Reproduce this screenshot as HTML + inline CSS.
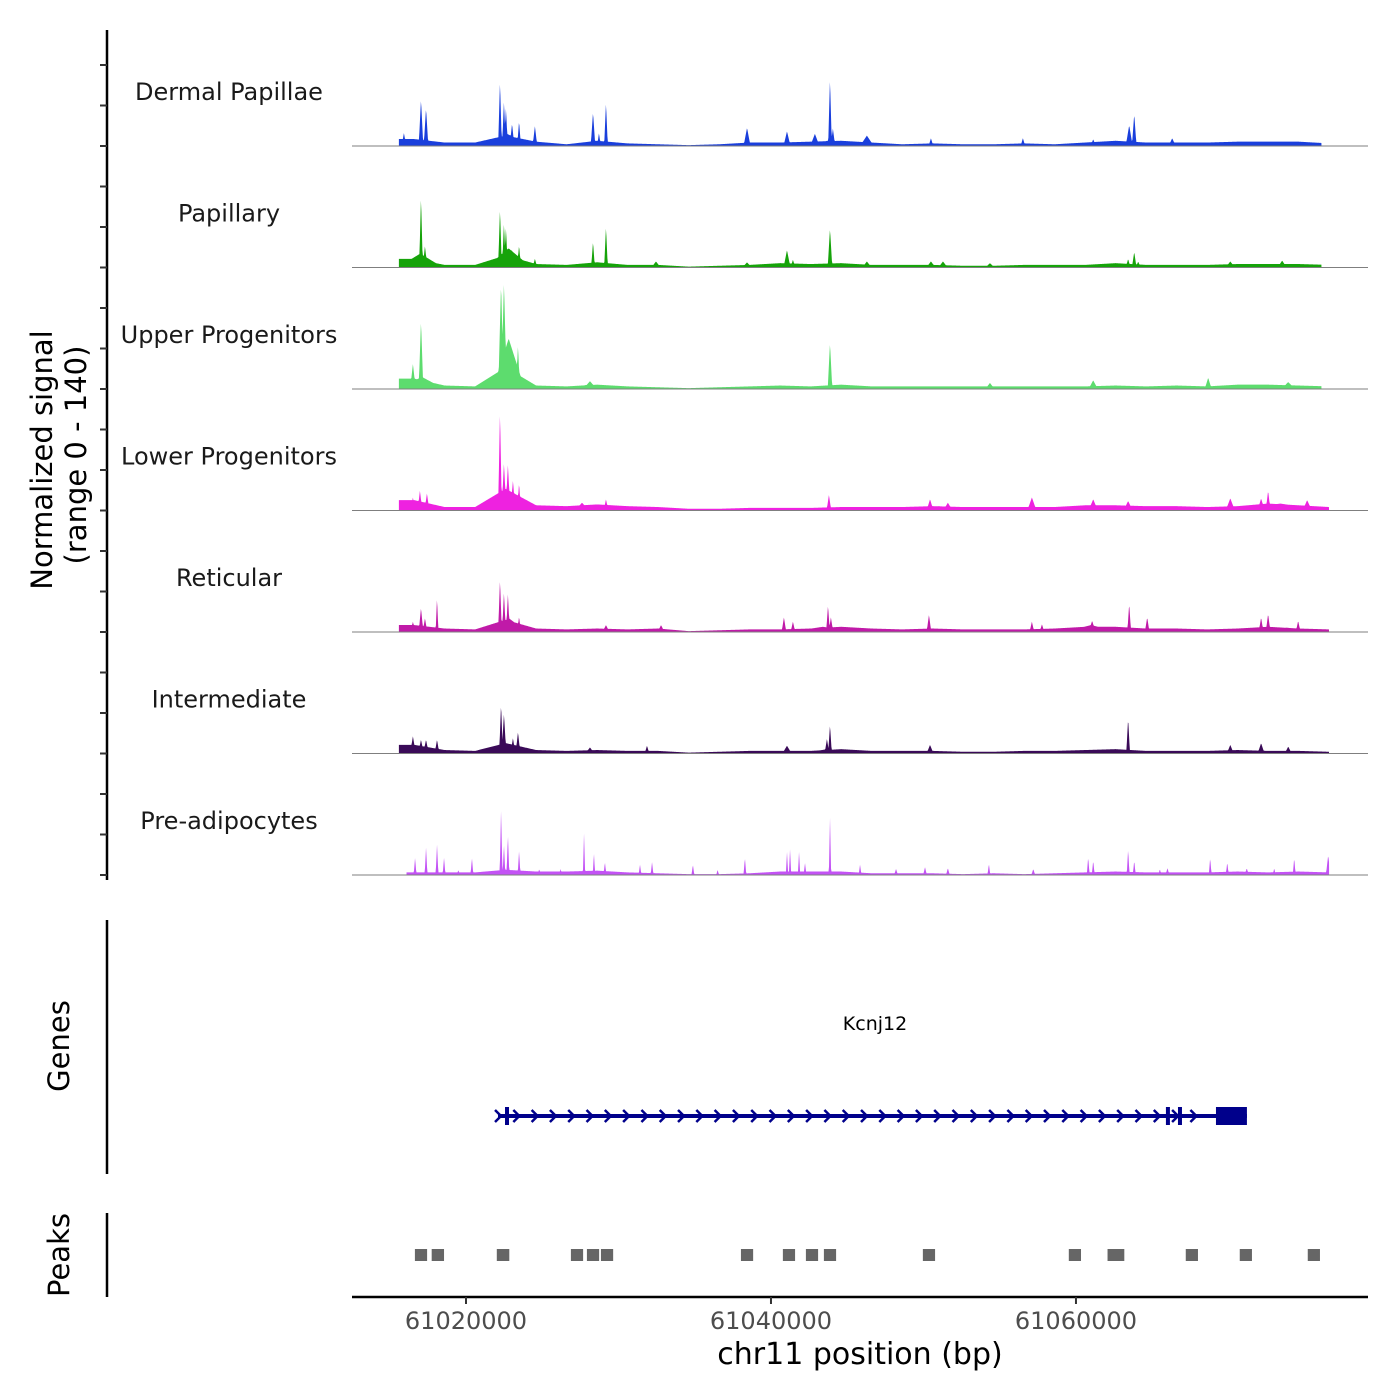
<!DOCTYPE html>
<html><head><meta charset="utf-8"><style>
html,body{margin:0;padding:0;background:#fff}
svg{display:block}
text{font-family:"DejaVu Sans","Liberation Sans",sans-serif}
</style></head><body>
<svg id="chart" width="1400" height="1400" viewBox="0 0 1400 1400">
<g id="axes"></g>
<g id="tracks"></g>
<g id="genes"></g>
<g id="peaks"></g>
</svg>
<script>
// ---- data (positions in kb, offset 61000; values in normalized signal units) ----
const trackNames = ["Dermal Papillae","Papillary","Upper Progenitors","Lower Progenitors","Reticular","Intermediate","Pre-adipocytes"];
const trackColors = ["#1a3fdc","#16a30a","#5ddc6e","#ee22e0","#c01aa8","#3a0a58","#c352f5"];
const trackStart = [15.6,15.6,15.6,15.6,15.6,15.6,16.1];
const trackEnd = [76.1,76.1,76.1,76.6,76.6,76.6,76.6];
const xTicks = [61020000,61040000,61060000];

// background level per 2 kb bin, starting at 15.6 kb
const bgStep = 2.0;
const dpBg = [8,4,4,12,5,2,6,3,2,1,2,4,4,5,6,4,2,3,2,2,3,2,4,6,4,4,4,5,5,5,3];
const paBg = [10,3,3,14,4,3,6,3,3,1,2,3,5,4,5,3,3,3,2,2,3,3,3,5,3,3,3,4,4,4,3];
const upBg = [12,4,3,25,4,3,5,3,2,1,2,3,4,3,5,3,3,3,3,3,3,3,3,4,3,4,3,5,5,4,3];
const loBg = [12,4,4,25,6,5,7,5,4,2,2,3,3,3,4,4,4,5,4,4,4,4,6,6,5,5,4,5,8,6,4];
const reBg = [8,4,3,14,4,3,4,3,4,1,2,3,3,4,6,4,3,4,3,3,3,4,6,6,4,4,3,4,6,4,3];
const inBg = [10,4,3,12,4,3,4,3,3,1,2,3,3,3,5,3,3,3,2,2,3,3,4,5,3,3,3,4,3,3,2];
const prBg = [3,3,3,6,4,4,5,3,2,1,1,2,4,4,4,2,2,2,1,2,1,2,3,4,3,3,3,4,3,4,3];

const dpPos = [15.93,17.05,17.38,22.23,22.49,22.62,23.02,23.48,24.52,28.33,28.72,29.18,38.43,41.05,42.88,43.87,44.06,46.29,50.49,56.52,61.13,63.49,63.82,66.31,76.54,17.2,22.7,28.8,43.7,63.6,73.0];
const dpVal = [15,54,44,75,52,44,26,29,23,39,15,50,21,17,14,78,20,12,9,9,8,24,37,9,15,6,14,4,6,6,5];
const dpW   = [0.1,0.1,0.1,0.08,0.08,0.08,0.1,0.08,0.1,0.1,0.08,0.08,0.15,0.15,0.2,0.08,0.1,0.3,0.1,0.1,0.1,0.15,0.1,0.15,0.1,1.0,1.0,0.8,1.0,0.8,2.5];

const paPos = [17.05,17.31,22.23,22.49,22.62,23.02,23.48,24.52,28.33,29.18,32.46,38.43,41.05,41.44,43.87,46.29,50.49,51.28,54.36,63.42,63.82,64.08,70.12,73.52,17.0,22.8,28.7];
const paVal = [82,25,68,51,46,21,26,10,30,47,7,6,20,9,45,7,7,7,5,10,18,7,7,8,16,22,6];
const paW   = [0.08,0.1,0.08,0.08,0.08,0.1,0.08,0.1,0.08,0.08,0.2,0.2,0.15,0.1,0.1,0.2,0.2,0.2,0.2,0.1,0.1,0.1,0.2,0.2,1.0,1.0,1.0];

const upPos = [16.52,17.05,22.30,22.49,23.08,23.41,28.13,43.87,54.36,61.13,68.67,73.92,17.1,22.8,28.0];
const upVal = [29,79,122,123,40,51,9,53,7,10,13,8,14,58,5];
const upW   = [0.12,0.1,0.12,0.12,0.1,0.08,0.3,0.1,0.2,0.2,0.15,0.3,1.0,0.7,1.0];

const loPos = [16.52,16.98,17.44,22.23,22.49,22.75,23.08,23.48,27.61,29.18,43.80,50.43,51.60,57.11,61.13,63.42,70.12,72.14,72.60,75.16,17.1,22.8,61.9,73.4,51.0];
const loVal = [15,23,20,115,55,53,35,32,9,13,18,13,9,15,13,11,14,14,23,12,10,23,6,8,5];
const loW   = [0.1,0.1,0.1,0.08,0.1,0.1,0.1,0.08,0.3,0.1,0.1,0.15,0.2,0.2,0.2,0.2,0.2,0.15,0.1,0.2,1.0,1.0,2.0,2.0,1.5];

const rePos = [16.52,17.05,17.31,18.10,22.23,22.49,22.75,23.48,29.18,32.79,40.85,41.44,43.74,43.93,50.36,57.11,57.77,61.06,63.49,64.67,72.14,72.60,74.57,17.1,22.8,43.4,61.0,73.8];
const reVal = [12,28,16,40,61,46,44,18,8,8,17,12,31,17,20,12,9,13,33,17,17,21,13,5,16,6,8,5];
const reW   = [0.1,0.1,0.1,0.06,0.08,0.08,0.08,0.08,0.15,0.15,0.1,0.1,0.08,0.1,0.1,0.1,0.1,0.15,0.08,0.1,0.1,0.1,0.1,1.0,0.8,1.5,1.2,2.0];

const inPos = [16.52,17.05,17.38,18.10,22.30,22.49,23.08,23.41,28.13,31.87,41.05,43.67,43.87,50.43,63.42,70.12,72.14,73.92,17.3,22.8,43.7];
const inVal = [20,16,16,16,58,46,18,25,7,9,9,17,33,10,41,10,12,8,7,9,5];
const inW   = [0.12,0.12,0.12,0.1,0.08,0.1,0.1,0.1,0.2,0.1,0.2,0.1,0.08,0.15,0.08,0.15,0.15,0.15,1.0,0.8,1.2];

const prPos = [16.66,17.38,18.10,18.56,20.39,22.30,22.49,22.75,23.48,27.74,28.39,29.11,31.41,32.20,34.88,38.29,41.05,41.25,41.84,42.23,43.87,45.84,48.2,50.1,51.6,54.29,57.2,60.80,61.13,63.42,63.82,66.0,68.80,69.92,71.2,74.31,76.54,19.5,24.8,26.2,36.5,65.5,73.0];
const prVal = [20,32,35,20,20,76,35,47,28,48,26,15,12,15,12,20,27,30,27,14,67,12,7,9,8,13,7,21,17,30,17,8,20,15,8,20,23,6,7,7,6,7,8];
const prW   = [0.06,0.06,0.06,0.06,0.06,0.06,0.06,0.06,0.06,0.05,0.05,0.06,0.06,0.06,0.06,0.06,0.05,0.05,0.05,0.06,0.05,0.06,0.08,0.08,0.08,0.06,0.08,0.06,0.06,0.06,0.06,0.08,0.06,0.06,0.08,0.06,0.1,0.06,0.06,0.06,0.06,0.06,0.06];

const trackPos = [dpPos,paPos,upPos,loPos,rePos,inPos,prPos];
const trackVal = [dpVal,paVal,upVal,loVal,reVal,inVal,prVal];
const trackW   = [dpW,paW,upW,loW,reW,inW,prW];
const trackBgs = [dpBg,paBg,upBg,loBg,reBg,inBg,prBg];

const geneName = "Kcnj12";
const geneStart = 22.10, geneEnd = 71.21;
const geneCdsStart = 69.18;
const exonMarks = [22.69,66.03,66.82];
const peakStart = [16.65,17.75,22.02,26.88,27.93,28.85,38.03,40.78,42.29,43.47,49.96,59.53,62.07,67.20,70.74,75.20];
const peakEnd   = [17.45,18.56,22.84,27.68,28.73,29.65,38.83,41.58,43.09,44.27,50.76,60.33,63.17,68.00,71.54,76.00];

// ---- scales ----
const WSCALE = 1.5;
const X0 = 352, X1 = 1368, KB0 = 12.525, KB1 = 79.15;
function xs(kb){ return X0 + (kb-KB0)/(KB1-KB0)*(X1-X0); }
function xbp(bp){ return xs(bp/1000 - 61000); }
const YMAX = 140, TH = 121.5;
function baseY(i){ return 146 + i*TH; }
function ys(i,v){ return baseY(i) - Math.min(v,YMAX)/YMAX*TH; }
function bgAt(arr, kb){
  const f = (kb-15.6)/bgStep - 0.5;
  const k = Math.floor(f);
  const a = arr[Math.max(0,Math.min(arr.length-1,k))];
  const b = arr[Math.max(0,Math.min(arr.length-1,k+1))];
  const t = Math.max(0,Math.min(1,f-k));
  return a + (b-a)*t;
}

const NS = "http://www.w3.org/2000/svg";
function mk(tag, attrs, parent){ const e=document.createElementNS(NS,tag); for(const k in attrs) e.setAttribute(k,attrs[k]); parent.appendChild(e); return e; }

const axes = document.getElementById('axes');
const tracksG = document.getElementById('tracks');
const genesG = document.getElementById('genes');
const peaksG = document.getElementById('peaks');

let l = mk('line',{x1:107,y1:30,x2:107,y2:880,stroke:'#000','stroke-width':2.5},axes);


for(let i=0;i<7;i++){
  for(let k=0;k<3;k++){
    const y = baseY(i) - k*TH/3;
    const t = mk('line',{x1:100,y1:y,x2:107,y2:y,stroke:'#333','stroke-width':2},axes);
    
    
  }
}
let yt = mk('text',{x:0,y:0,'font-size':29,'text-anchor':'middle',fill:'#000',transform:'translate(52,460) rotate(-90)'},axes);
yt.textContent='Normalized signal';


let yt2 = mk('text',{x:0,y:0,'font-size':29,'text-anchor':'middle',fill:'#000',transform:'translate(86,455) rotate(-90)'},axes);
yt2.textContent='(range 0 - 140)';



for(let i=0;i<7;i++){
  const pos=trackPos[i], val=trackVal[i], w=trackW[i], bg=trackBgs[i];
  let d = 'M'+xs(trackStart[i]).toFixed(2)+','+baseY(i);
  for(let px=xs(trackStart[i]); px<=xs(trackEnd[i]); px+=0.5){
    const kb = KB0 + (px-X0)/(X1-X0)*(KB1-KB0);
    let v = 0;
    for(let j=0;j<pos.length;j++){
      const f = 1 - Math.abs(kb-pos[j])/(w[j]*WSCALE);
      if(f>0) v = Math.max(v, val[j]*f);
    }
    v = Math.max(v, bgAt(bg,kb));
    d += 'L'+px.toFixed(2)+','+ys(i,v).toFixed(2);
  }
  d += 'L'+xs(trackEnd[i]).toFixed(2)+','+baseY(i)+'Z';
  const p = mk('path',{d:d,fill:trackColors[i]},tracksG);
  
  
  const bl = mk('line',{x1:X0,y1:baseY(i),x2:X1,y2:baseY(i),stroke:'#7f7f7f','stroke-width':1},tracksG);
  
  
  const lab = mk('text',{x:229,y:baseY(i)-46,'font-size':24,'text-anchor':'middle',fill:'#1a1a1a'},tracksG);
  lab.textContent = trackNames[i];
  
  
}

let ga = mk('line',{x1:107,y1:920,x2:107,y2:1174,stroke:'#000','stroke-width':2.5},genesG);


let gt = mk('text',{x:0,y:0,'font-size':29,'text-anchor':'middle',fill:'#000',transform:'translate(69,1046) rotate(-90)'},genesG);
gt.textContent='Genes';


const GY = 1116;
let gl = mk('line',{x1:xs(geneStart),y1:GY,x2:xs(geneEnd),y2:GY,stroke:'#00008b','stroke-width':4},genesG);


for(let kb=geneStart+0.0; kb<geneCdsStart-0.3; kb+=1.2){
  const x = xs(kb);
  const a = mk('path',{d:`M${x-3},${GY-6} L${x+3},${GY} L${x-3},${GY+6}`,fill:'none',stroke:'#00008b','stroke-width':2.5},genesG);
  
  
}
for(const e of exonMarks){
  const m = mk('rect',{x:xs(e)-2,y:GY-9,width:4,height:18,fill:'#00008b'},genesG);
  
  
}
let cds = mk('rect',{x:xs(geneCdsStart),y:GY-9,width:xs(geneEnd)-xs(geneCdsStart),height:18,fill:'#00008b'},genesG);


let gn = mk('text',{x:875,y:1030,'font-size':19,'text-anchor':'middle',fill:'#000'},genesG);
gn.textContent=geneName;



let pa = mk('line',{x1:107,y1:1213,x2:107,y2:1297,stroke:'#000','stroke-width':2.5},peaksG);


let pt = mk('text',{x:0,y:0,'font-size':29,'text-anchor':'middle',fill:'#000',transform:'translate(69,1255) rotate(-90)'},peaksG);
pt.textContent='Peaks';


for(let j=0;j<peakStart.length;j++){
  const r = mk('rect',{x:xs(peakStart[j]),y:1249,width:xs(peakEnd[j])-xs(peakStart[j]),height:12,fill:'#666666'},peaksG);
  
  
}

let xa = mk('line',{x1:X0,y1:1297,x2:X1,y2:1297,stroke:'#000','stroke-width':2.5},axes);


for(const t of xTicks){
  const x = xbp(t);
  const tk = mk('line',{x1:x,y1:1297,x2:x,y2:1304,stroke:'#333','stroke-width':2},axes);
  
  
  const tl = mk('text',{x:x,y:1329,'font-size':24,'text-anchor':'middle',fill:'#4d4d4d'},axes);
  tl.textContent = String(t);
  
  
}
let xt = mk('text',{x:860,y:1364,'font-size':30,'text-anchor':'middle',fill:'#000'},axes);
xt.textContent='chr11 position (bp)';


</script>
</body></html>
